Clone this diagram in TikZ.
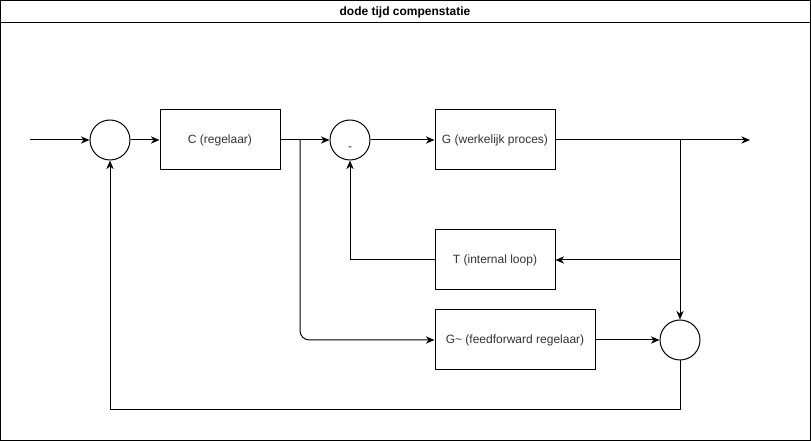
\documentclass[tikz,border=0pt]{standalone}
\usepackage{fontspec}
\setmainfont{Liberation Sans}
\usetikzlibrary{arrows.meta}
\begin{document}
\begin{tikzpicture}[x=0.75pt,y=-0.75pt,
  line width=0.75pt,
  every node/.style={font=\fontsize{9}{11}\selectfont, text=black!80},
  blk/.style={draw, rectangle, minimum height=45pt, inner sep=0pt, text=black!80},
  sumc/.style={draw, circle, minimum size=30pt, inner sep=0pt},
  arr/.style={-{Stealth[length=6.5pt,width=5.5pt]}}]
\useasboundingbox (0,0) rectangle (811,441);
\draw (0.5,0.5) rectangle (810.5,440.5);
\draw (0.5,23) -- (810.5,23);
\node[text=black, font=\fontsize{9}{11}\selectfont\bfseries] (title) at (405,12) {dode tijd compenstatie};

\node[sumc] (s1) at (110,140) {};
\node[blk, minimum width=90pt] (C) at (220,140) {C (regelaar)};
\node[sumc] (s2) at (350,140) {};
\node (minus) at (350,149) {-};
\node[blk, minimum width=90pt] (G) at (495,140) {G (werkelijk proces)};
\node[blk, minimum width=90pt] (T) at (495,260) {T (internal loop)};
\node[blk, minimum width=120pt] (Gf) at (515,340) {G\char`~{} (feedforward regelaar)};
\node[sumc] (s3) at (680,340) {};

\coordinate (in) at (30,140);
\coordinate (out) at (750,140);
\coordinate (bo) at (680,140);
\coordinate (bt) at (680,260);
\coordinate (bc) at (300,140);
\coordinate (bl) at (680,410);
\coordinate (br) at (110,410);

\draw[arr] (in) -- (s1);
\draw[arr] (s1) -- (C);
\draw[arr] (C) -- (s2);
\draw[arr] (s2) -- (G);
\draw[arr] (G) -- (out);
\draw[arr] (bo) -- (s3);
\draw[arr] (bt) -- (T);
\draw[arr] (T.west) -| (s2.south);
\draw[arr, rounded corners=7pt] (bc) |- (Gf.west);
\draw[arr] (Gf) -- (s3);
\draw[arr] (s3.south) -- (bl) -- (br) -- (s1.south);
\end{tikzpicture}
\end{document}
